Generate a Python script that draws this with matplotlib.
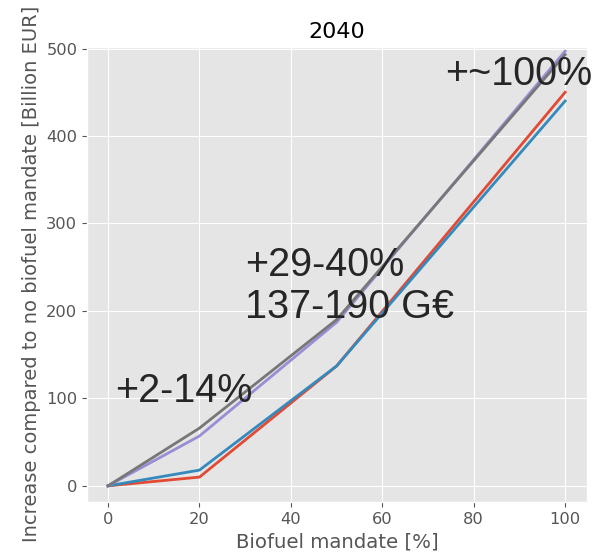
import matplotlib
matplotlib.use("Agg")
import matplotlib.pyplot as plt

plt.style.use("ggplot")

mandate = [0, 20, 50, 100]
series_red = [0, 10, 137, 450]
series_blue = [0, 18, 137, 440]
series_purple = [0, 57, 187, 497]
series_gray = [0, 66, 190, 493]

fig = plt.figure(figsize=(5.96, 5.57), dpi=100)
ax = fig.add_axes([0.146, 0.099, 0.839, 0.817])
for s in [series_red, series_blue, series_purple, series_gray]:
    ax.plot(mandate, s, lw=2)

ax.set_xlim(-4.6, 104.8)
ax.set_ylim(-18.3, 502)
ax.set_xticks([0, 20, 40, 60, 80, 100])
ax.set_yticks([0, 100, 200, 300, 400, 500])
ax.tick_params(labelsize=11.7)
ax.set_title("2040", fontsize=16, color="black")
ax.set_xlabel("Biofuel mandate [%]", fontsize=14.2)
ax.set_ylabel("Increase compared to no biofuel mandate [Billion EUR]", fontsize=14)

ann = dict(fontsize=28.5, color="#262626", family="Liberation Sans")
ax.text(1.5, 96, "+2-14%", **ann)
ax.text(30, 192, "+29-40%\n137-190 G€", linespacing=1.12, **ann)
ax.text(73.7, 458, "+~100%", **ann)

fig.savefig("out.png", dpi=100)
